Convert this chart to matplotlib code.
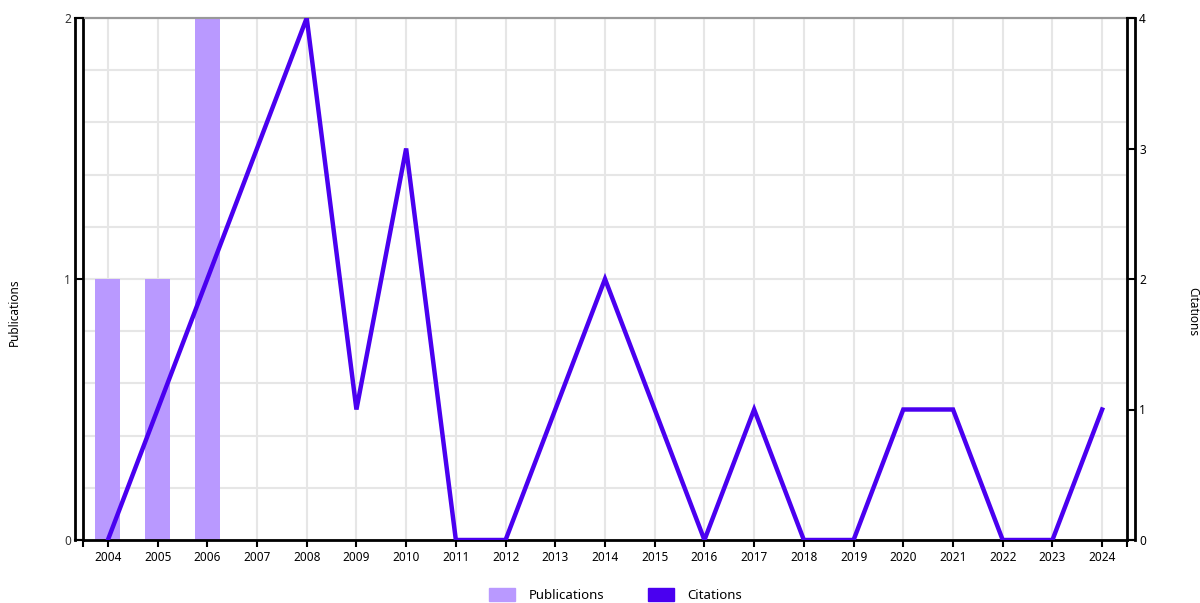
import matplotlib
matplotlib.use("Agg")
import matplotlib.pyplot as plt
from matplotlib.patches import Patch
from matplotlib.lines import Line2D
import numpy as np

years = [str(y) for y in range(2004, 2025)]
publications = [1, 1, 2, 0, 0, 0, 0, 0, 0, 0, 0, 0, 0, 0, 0, 0, 0, 0, 0, 0, 0]
citations = [0, 1, 2, 3, 4, 1, 3, 0, 0, 1, 2, 1, 0, 1, 0, 0, 1, 1, 0, 0, 1]

bar_color = "#B999FF"
line_color = "#4A00F0"
font = ["Noto Sans", "DejaVu Sans"]
plt.rcParams["font.family"] = font

PX = 72 / 100  # points per pixel

fig = plt.figure(figsize=(12, 6.03), dpi=100)
ax = fig.add_axes([83 / 1200, 1 - 540 / 603, 1044 / 1200, 522 / 603])
x = np.arange(len(years))

ax.bar(x, publications, width=0.5, color=bar_color, zorder=2)
ax.set_xlim(-0.5, len(years) - 0.5)
ax.set_ylim(0, 2)

ax2 = ax.twinx()
ax2.plot(x, citations, color=line_color, lw=3.2, zorder=3, solid_joinstyle="miter")
ax2.set_ylim(0, 4)

# grid
ax.set_yticks([0, 1, 2])
ax.set_yticks(np.arange(0, 2.01, 0.2), minor=True)
ax.yaxis.grid(True, which="both", color="#e6e6e6", lw=1.5, zorder=0)
ax.set_axisbelow(True)
ax.tick_params(axis="y", which="minor", length=0)

# x ticks incl. edge ticks
ax.set_xticks(list(x) + [-0.5, len(years) - 0.5])
ax.set_xticklabels(years + ["", ""])
ax.tick_params(axis="x", direction="out", length=7 * PX, width=1.5, labelsize=8.5, pad=3, colors="black")
ax.xaxis.grid(True, color="#e6e6e6", lw=1.5)

# spines
for a in (ax, ax2):
    a.spines["top"].set_color("#999999")
    a.spines["top"].set_linewidth(1.5)
    a.spines["bottom"].set_linewidth(2)
ax.spines["left"].set_position(("outward", 8 * PX))
ax.spines["left"].set_linewidth(2)
ax.spines["right"].set_visible(False)
ax2.spines["left"].set_visible(False)
ax2.spines["right"].set_position(("outward", 8 * PX))
ax2.spines["right"].set_linewidth(2)
ax2.spines["bottom"].set_visible(False)

ax.tick_params(axis="y", which="major", direction="in", length=8 * PX, width=1.5, labelsize=8.5, pad=3, labelcolor="#333333")
ax2.set_yticks([0, 1, 2, 3, 4])
ax2.tick_params(axis="y", direction="in", length=8 * PX, width=1.5, labelsize=8.5, pad=3)

# inner verticals
ax.plot([0, 0], [0, 1], transform=ax.transAxes, color="black", lw=2, clip_on=False, zorder=5)
ax.plot([1, 1], [0, 1], transform=ax.transAxes, color="black", lw=2, clip_on=False, zorder=5)
# small connectors at top/bottom
for (xa, dx) in ((0, -8), (1, 8)):
    for ya in (0, 1):
        xp = ax.transAxes.transform((xa, 0))[0]
        yp = ax.transAxes.transform((0, ya))[1]
        fig.add_artist(Line2D([xp, xp + dx], [yp, yp], transform=None, color="black", lw=1.5))

# axis labels
fig.text(14 / 1200, 1 - 312 / 603, "Publications", rotation=90, ha="center", va="center", fontsize=8.5)
fig.text(1193 / 1200, 1 - 312 / 603, "Citations", rotation=270, ha="center", va="center", fontsize=8.5)

handles = [Patch(color=bar_color, label="Publications"), Patch(color=line_color, label="Citations")]
fig.legend(handles=handles, loc="center", bbox_to_anchor=(0.513, 1 - 595 / 603), ncol=2, frameon=False,
           fontsize=9.5, handlelength=2.0, handleheight=1.2, columnspacing=3.3, handletextpad=1.0)

fig.savefig("out.png", dpi=100)
